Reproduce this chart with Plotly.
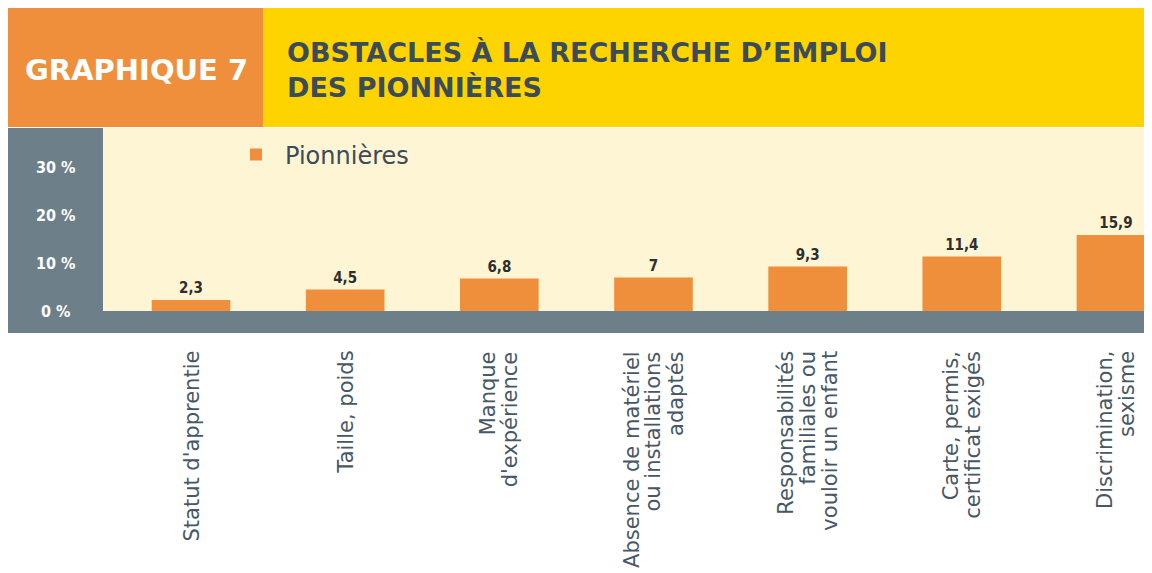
import plotly.graph_objects as go

# data
categories = [
    "Statut d'apprentie",
    "Taille, poids",
    "Manque<br>d'expérience",
    "Absence de matériel<br>ou installations<br>adaptés",
    "Responsabilités<br>familiales ou<br>vouloir un enfant",
    "Carte, permis,<br>certificat exigés",
    "Discrimination,<br>sexisme",
]
pionnieres = [2.3, 4.5, 6.8, 7, 9.3, 11.4, 15.9]
y_ticks = [0, 10, 20, 30]
y_ticktext = ["0 %", "10 %", "20 %", "30 %"]

ORANGE = "#EF8F3B"
YELLOW = "#FDD300"
CREAM = "#FEF5D4"
GREY = "#6D7F89"
SLATE = "#3B4B57"
WIDE = "DejaVu Sans, Liberation Sans, sans-serif"
NARROW = "DejaVu Sans Condensed, Liberation Sans Narrow, Liberation Sans, sans-serif"

# the page body has an 8px margin and the div is held to the body width,
# so the figure is 1136 wide; positions below are given in page pixels
OFF = 8
W, H = 1152 - 2 * OFF, 573 - OFF
L, R, T, B = 103 - OFF, 0, 128 - OFF, (OFF + H) - 311
PW, PH = W - L - R, H - T - B


def px(x):
    return (x - OFF - L) / PW


def py(y):
    return (OFF + H - B - y) / PH


fig = go.Figure(go.Bar(
    x=list(range(len(categories))), y=pionnieres, name="Pionnières",
    marker_color=ORANGE, marker_line_width=0,
    texttemplate="<b>%{y}</b>", textposition="outside", cliponaxis=False,
    textfont=dict(family=NARROW, size=15, color="#2E2E2E"),
))

shapes = [
    # header blocks
    dict(type="rect", xref="paper", yref="paper", x0=px(7), x1=px(263),
         y0=py(127), y1=py(6), fillcolor=ORANGE, line_width=0),
    dict(type="rect", xref="paper", yref="paper", x0=px(263), x1=px(1152),
         y0=py(127), y1=py(7), fillcolor=YELLOW, line_width=0),
    # grey frame left and under the plot
    dict(type="rect", xref="paper", yref="paper", x0=px(7), x1=px(103),
         y0=py(333), y1=py(128), fillcolor=GREY, line_width=0),
    dict(type="rect", xref="paper", yref="paper", x0=px(7), x1=px(1152),
         y0=py(333), y1=py(311), fillcolor=GREY, line_width=0),
]

annotations = [
    dict(text="<b>GRAPHIQUE 7</b>", xref="paper", yref="paper",
         x=px(136), y=py(70), showarrow=False, xanchor="center", yanchor="middle",
         font=dict(family=WIDE, size=29, color="white")),
    dict(text="<b>OBSTACLES À LA RECHERCHE D’EMPLOI<br>DES PIONNIÈRES</b>",
         xref="paper", yref="paper", x=px(285), y=py(70), align="left",
         showarrow=False, xanchor="left", yanchor="middle",
         font=dict(family=WIDE, size=27, color=SLATE)),
]
for v, t in zip(y_ticks, y_ticktext):
    annotations.append(dict(
        text=f"<b>{t}</b>", xref="paper", yref="y", x=px(55), y=v,
        showarrow=False, xanchor="center", yanchor="middle",
        font=dict(family=NARROW, size=16, color="white")))

# category labels, rotated, lines packed tighter than plotly tick labels
LINE = 22 / 154.2
for i, cat in enumerate(categories):
    lines = cat.split("<br>")
    n = len(lines)
    for j, ln in enumerate(lines):
        annotations.append(dict(
            text=ln, xref="x", yref="paper", x=i + (j - (n - 1) / 2) * LINE,
            y=py(349), textangle=-90, showarrow=False,
            xanchor="center", yanchor="top",
            font=dict(family=WIDE, size=21, color="#475764")))

fig.update_layout(
    width=W, height=H,
    margin=dict(l=L, r=R, t=T, b=B, pad=0),
    paper_bgcolor="white", plot_bgcolor=CREAM,
    separators=", ",
    bargap=0.49,
    shapes=shapes, annotations=annotations,
    showlegend=True,
    legend=dict(x=px(227), y=py(155), xanchor="left", yanchor="middle",
                itemwidth=48, bgcolor="rgba(0,0,0,0)",
                font=dict(family=WIDE, size=24, color=SLATE)),
    xaxis=dict(range=[-0.571, 6.182], showticklabels=False, ticks="",
               showline=False, showgrid=False, zeroline=False),
    yaxis=dict(range=[0, 38.3], showticklabels=False, showgrid=False,
               zeroline=False, showline=False, tickvals=y_ticks),
)

fig.write_html("out.html")
